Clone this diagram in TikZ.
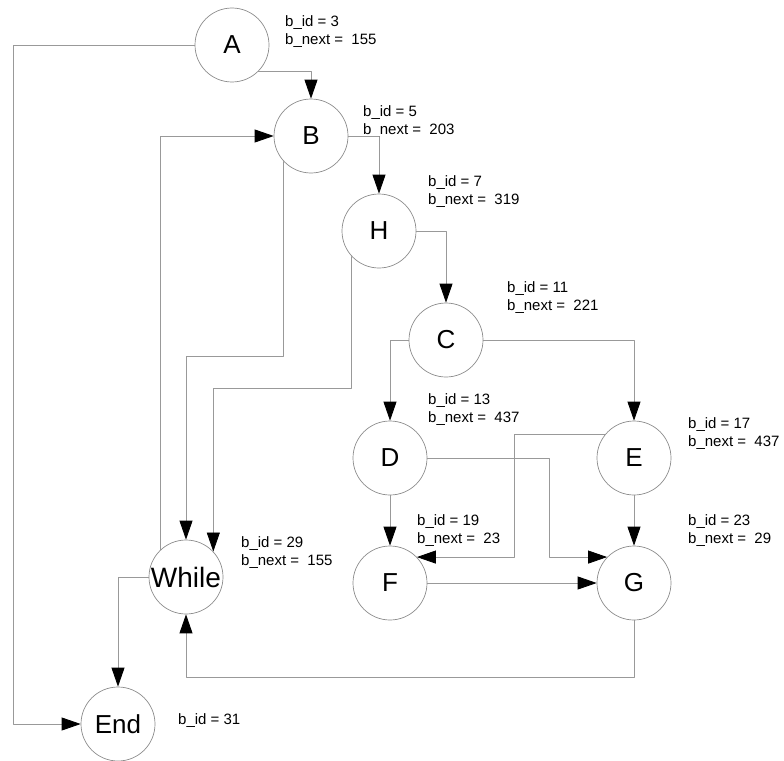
\documentclass[tikz,border=0pt]{standalone}
\usepackage{fontspec}
\setmainfont{Liberation Sans}
\usetikzlibrary{arrows.meta}

\begin{document}
\begin{tikzpicture}[x=1pt,y=-1pt,line cap=round,line join=round,
  blk/.style={circle,draw=black!45,line width=0.7pt,minimum size=74pt,
    inner sep=0pt,font=\fontsize{26}{26}\selectfont},
  info/.style={anchor=west,align=left,inner sep=0pt,
    font=\fontsize{15}{18}\selectfont},
  edge/.style={draw=black!40,line width=0.8pt,
    -{Triangle[length=19pt,width=13pt,black]}}]
  \useasboundingbox (0,0) rectangle (784,760);

  % Blocks
  \node[blk] (A) at (232,45) {A};
  \node[blk] (B) at (311,136) {B};
  \node[blk] (H) at (379,231) {H};
  \node[blk] (C) at (446,340) {C};
  \node[blk] (D) at (390,458) {D};
  \node[blk] (E) at (634,458) {E};
  \node[blk] (F) at (390,583) {F};
  \node[blk] (G) at (634,583) {G};
  \node[blk,font=\fontsize{28}{28}\selectfont] (While) at (186,577) {While};
  \node[blk] (End) at (118,724) {End};

  % Block info
  \node[info] (iA) at (285,32) {b\_id = 3\\b\_next = \ 155};
  \node[info] (iB) at (363,122) {b\_id = 5\\b\_next = \ 203};
  \node[info] (iH) at (428,192) {b\_id = 7\\b\_next = \ 319};
  \node[info] (iC) at (507,298) {b\_id = 11\\b\_next = \ 221};
  \node[info] (iD) at (428,410) {b\_id = 13\\b\_next = \ 437};
  \node[info] (iE) at (688,434) {b\_id = 17\\b\_next = \ 437};
  \node[info] (iF) at (417,531) {b\_id = 19\\b\_next = \ 23};
  \node[info] (iG) at (688,531) {b\_id = 23\\b\_next = \ 29};
  \node[info] (iW) at (241,553) {b\_id = 29\\b\_next = \ 155};
  \node[info] (iEnd) at (178,721) {b\_id = 31};

  % Control flow
  \draw[edge] (A.west) -- ++(-181,0) |- (End.west);
  \draw[edge] (A.-45) -| (B.north);
  \draw[edge] (B.east) -| (H.north);
  \draw[edge] (B.-137) -- (B.-137 |- 0,356) -| (While.north);
  \draw[edge] (H.-137) -- (H.-137 |- 0,388) -| (While.43);
  \draw[edge] (H.east) -| (C.north);
  \draw[edge] (While.133) |- (B.west);
  \draw[edge] (While.west) -| (End.north);
  \draw[edge] (C.west) -| (D.north);
  \draw[edge] (C.east) -| (E.north);
  \draw[edge] (E.140) -- ++(-91,0) |- (F.44);
  \draw[edge] (D.east) -- ++(122,0) |- (G.136);
  \draw[edge] (D.south) -- (F.north);
  \draw[edge] (F.east) -- (G.west);
  \draw[edge] (E.south) -- (G.north);
  \draw[edge] (G.south) -- ++(0,57) -| (While.south);
\end{tikzpicture}
\end{document}
